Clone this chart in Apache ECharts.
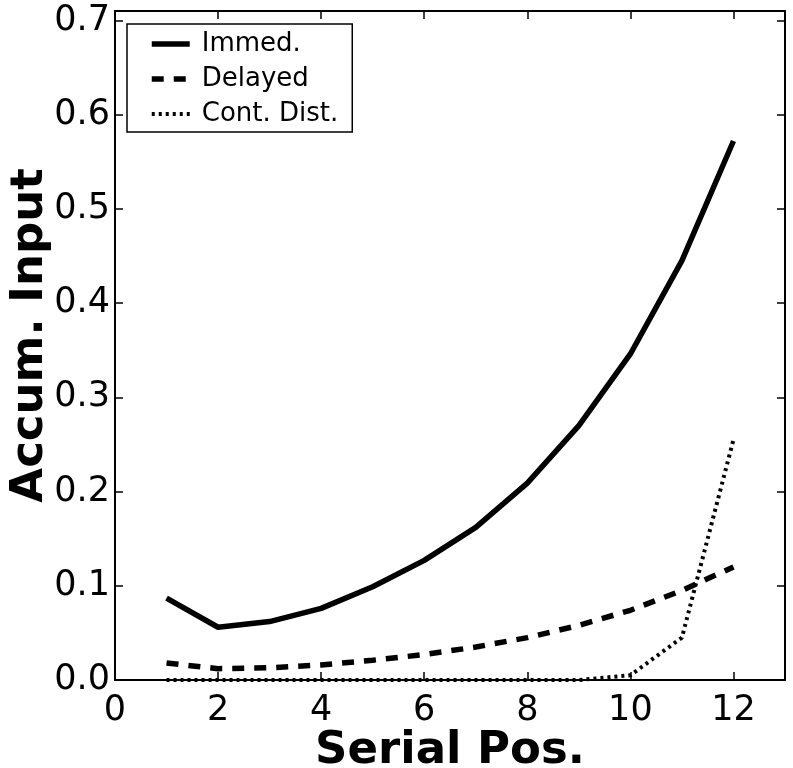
<!DOCTYPE html>
<html>
<head>
<meta charset="utf-8">
<script src="https://cdn.jsdelivr.net/npm/echarts@6/dist/echarts.min.js"></script>
<style>
html,body{margin:0;padding:0;background:#fff;}
#chart{width:793px;height:768px;}
</style>
</head>
<body>
<div id="chart"></div>
<script>
const serialPos = [1, 2, 3, 4, 5, 6, 7, 8, 9, 10, 11, 12];
const immed = [0.087, 0.056, 0.062, 0.076, 0.099, 0.127, 0.162, 0.209, 0.270, 0.346, 0.445, 0.572];
const delayed = [0.018, 0.012, 0.013, 0.016, 0.021, 0.027, 0.035, 0.045, 0.058, 0.074, 0.095, 0.120];
const contDist = [0, 0, 0, 0, 0, 0, 0, 0, 0, 0.005, 0.045, 0.255];
const xTicks = [0, 2, 4, 6, 8, 10, 12];
const yTicks = [0.0, 0.1, 0.2, 0.3, 0.4, 0.5, 0.6, 0.7];
const seriesNames = ['Immed.', 'Delayed', 'Cont. Dist.'];

const pair = (ys) => serialPos.map((x, i) => [x, ys[i]]);
const isTick = (arr, v) => arr.some(t => Math.abs(t - v) < 1e-6);

const font = 'DejaVu Sans';
const chart = echarts.init(document.getElementById('chart'), null, {renderer: 'canvas'});

const axisLineStyle = {show: true, onZero: false, lineStyle: {color: '#000', width: 2}};
const tickStyle = {show: true, inside: true, length: 8, lineStyle: {color: '#000', width: 1.5}};

chart.setOption({
  animation: false,
  backgroundColor: '#fff',
  grid: {left: 115, right: 8, top: 11, bottom: 88, containLabel: false, outerBoundsMode: 'none'},
  legend: {
    orient: 'vertical',
    left: 127, top: 24,
    backgroundColor: '#fff',
    borderColor: '#000', borderWidth: 1.5, borderRadius: 0,
    padding: [7, 14, 5, 22],
    itemWidth: 38, itemHeight: 26, itemGap: 9,
    lineStyle: {width: 'inherit'},
    itemStyle: {opacity: 0},
    data: seriesNames,
    textStyle: {fontFamily: font, fontSize: 26, color: '#000', padding: [0, 0, 0, 7]}
  },
  xAxis: [{
    type: 'value', min: 0, max: 13, interval: 2,
    position: 'bottom',
    name: 'Serial Pos.', nameLocation: 'middle', nameGap: 49, nameMoveOverlap: false,
    nameTextStyle: {fontFamily: font, fontSize: 45, fontWeight: 'bold', color: '#000'},
    axisLine: axisLineStyle, axisTick: tickStyle,
    splitLine: {show: false},
    axisLabel: {fontFamily: font, fontSize: 35, color: '#000', margin: 13,
      formatter: v => isTick(xTicks, v) ? String(v) : ''}
  }, {
    type: 'value', min: 0, max: 13, interval: 2,
    position: 'top',
    axisLine: axisLineStyle, axisTick: tickStyle,
    splitLine: {show: false}, axisLabel: {show: false}
  }],
  yAxis: [{
    type: 'value', min: 0, max: 0.71, interval: 0.1,
    position: 'left',
    name: 'Accum. Input', nameLocation: 'middle', nameGap: 62, nameRotate: 90, nameMoveOverlap: false,
    nameTextStyle: {fontFamily: font, fontSize: 45, fontWeight: 'bold', color: '#000', padding: [0, 0, 0, 20]},
    axisLine: axisLineStyle, axisTick: tickStyle,
    splitLine: {show: false},
    axisLabel: {fontFamily: font, fontSize: 35, color: '#000', margin: 5,
      formatter: v => isTick(yTicks, v) ? v.toFixed(1) : ''}
  }, {
    type: 'value', min: 0, max: 0.71, interval: 0.1,
    position: 'right',
    axisLine: axisLineStyle, axisTick: tickStyle,
    splitLine: {show: false}, axisLabel: {show: false}
  }],
  series: [{
    name: seriesNames[0], type: 'line', data: pair(immed),
    symbol: 'none', lineStyle: {color: '#000', width: 5.5, type: 'solid'},
    itemStyle: {color: '#000'}
  }, {
    name: seriesNames[1], type: 'line', data: pair(delayed),
    symbol: 'none', lineStyle: {color: '#000', width: 5.5, type: [12, 10], cap: 'butt'},
    itemStyle: {color: '#000'}
  }, {
    name: seriesNames[2], type: 'line', data: pair(contDist),
    symbol: 'none', lineStyle: {color: '#000', width: 4, type: [3, 4], cap: 'butt'},
    itemStyle: {color: '#000'}
  }]
});
</script>
</body>
</html>
